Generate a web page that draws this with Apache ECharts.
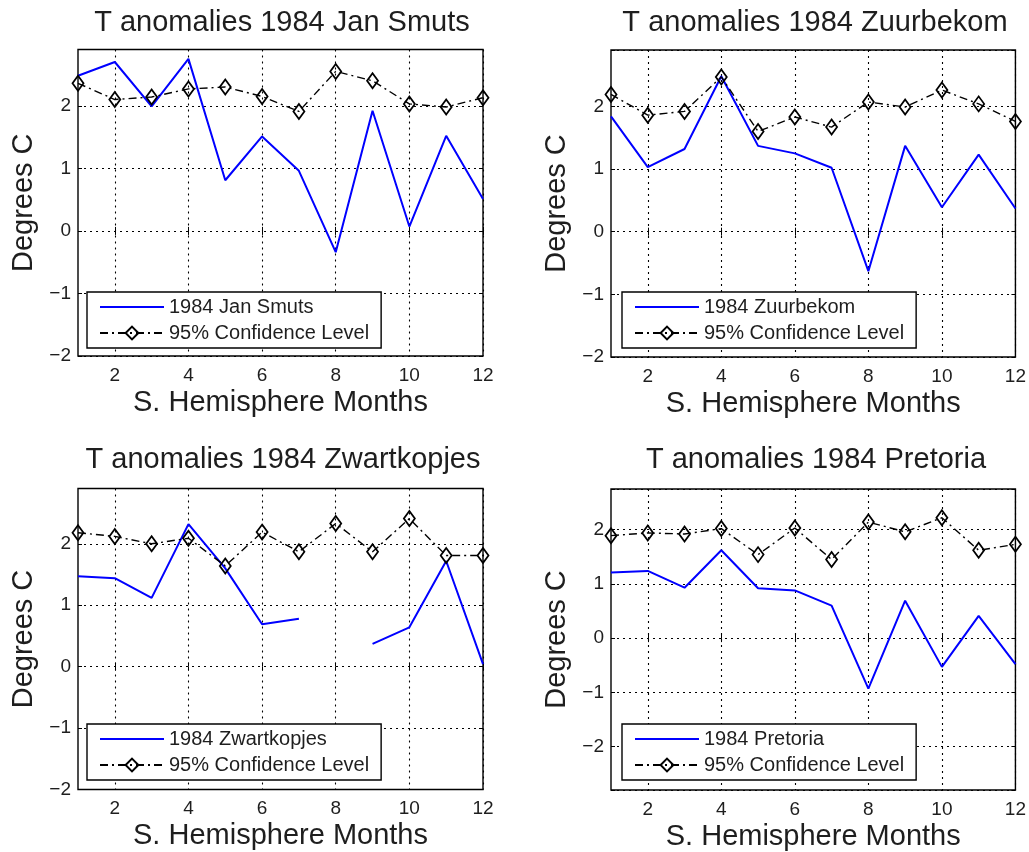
<!DOCTYPE html>
<html>
<head>
<meta charset="utf-8">
<script src="https://cdn.jsdelivr.net/npm/echarts@6/dist/echarts.min.js"></script>
<style>
html,body{margin:0;padding:0;background:#fff;}
#c{width:1029px;height:852px;}
</style>
</head>
<body>
<div id="c"></div>
<script>
// ---- data ----
var months = ['1','2','3','4','5','6','7','8','9','10','11','12'];
var ciName = '95% Confidence Level';

var jsName = '1984 Jan Smuts';
var jsT  = [2.48, 2.70, 1.99, 2.75, 0.81, 1.51, 0.96, -0.34, 1.92, 0.07, 1.52, 0.51];
var jsCI = [2.36, 2.10, 2.14, 2.27, 2.30, 2.15, 1.91, 2.55, 2.40, 2.03, 1.98, 2.13];

var zbName = '1984 Zuurbekom';
var zbT  = [1.84, 1.03, 1.32, 2.48, 1.37, 1.25, 1.02, -0.63, 1.37, 0.39, 1.23, 0.37];
var zbCI = [2.19, 1.86, 1.92, 2.47, 1.60, 1.83, 1.67, 2.07, 1.99, 2.26, 2.04, 1.76];

var zkName = '1984 Zwartkopjes';
var zkT  = [1.47, 1.44, 1.12, 2.32, 1.60, 0.69, 0.78, null, 0.37, 0.64, 1.72, 0.04];
var zkCI = [2.18, 2.12, 2.00, 2.09, 1.64, 2.19, 1.87, 2.33, 1.87, 2.41, 1.81, 1.81];

var ptName = '1984 Pretoria';
var ptT  = [1.21, 1.24, 0.93, 1.62, 0.92, 0.88, 0.60, -0.93, 0.69, -0.53, 0.41, -0.48];
var ptCI = [1.89, 1.94, 1.92, 2.02, 1.54, 2.03, 1.45, 2.14, 1.96, 2.22, 1.62, 1.73];

var titles = ['T anomalies 1984 Jan Smuts','T anomalies 1984 Zuurbekom','T anomalies 1984 Zwartkopjes','T anomalies 1984 Pretoria'];
var yMin = [-2, -2, -2, -2.8];
var yMax = [2.9, 2.9, 2.9, 2.75];
var xName = 'S. Hemisphere Months';
var yName = 'Degrees C';

// ---- layout ----
var panels = [
  {name: jsName, t: jsT, ci: jsCI, grid: {left: 78, top: 49.5, width: 405, height: 306.5}, leg: {left: 87, top: 292}, title: {x: 282, y: 8}},
  {name: zbName, t: zbT, ci: zbCI, grid: {left: 611, top: 50, width: 405, height: 307}, leg: {left: 622, top: 292}, title: {x: 815, y: 8}},
  {name: zkName, t: zkT, ci: zkCI, grid: {left: 78, top: 488.5, width: 405, height: 301}, leg: {left: 87, top: 724}, title: {x: 283, y: 445}},
  {name: ptName, t: ptT, ci: ptCI, grid: {left: 611, top: 489, width: 405, height: 301}, leg: {left: 622, top: 724}, title: {x: 816, y: 445}}
];

var FONT = '"Liberation Sans", Arial, Helvetica, sans-serif';
var TXT = '#1e1e1e';
var evenIdx = function (idx) { return idx % 2 === 1; };
var yFmt = function (v) {
  if (Math.abs(v - Math.round(v)) > 1e-6) return '';
  v = Math.round(v);
  return v < 0 ? '\u2212' + (-v) : String(v);
};
var gridLineStyle = {color: '#000', width: 1.1, type: [2, 4]};

var option = {
  animation: false,
  backgroundColor: '#fff',
  title: [], grid: [], xAxis: [], yAxis: [], legend: [], series: []
};

panels.forEach(function (p, i) {
  option.title.push({
    text: titles[i], left: p.title.x, top: p.title.y, textAlign: 'center', padding: 0,
    textStyle: {fontFamily: FONT, fontSize: 29, fontWeight: 'normal', color: TXT}
  });
  option.grid.push({
    left: p.grid.left, top: p.grid.top, width: p.grid.width, height: p.grid.height,
    show: true, borderColor: '#000', borderWidth: 1.4, backgroundColor: '#fff', containLabel: false
  });
  // bottom x
  option.xAxis.push({
    type: 'category', gridIndex: i, data: months, boundaryGap: false,
    name: xName, nameLocation: 'middle', nameGap: 32,
    nameTextStyle: {fontFamily: FONT, fontSize: 29, color: TXT},
    axisLine: {show: false},
    axisTick: {show: true, inside: true, length: 4, interval: evenIdx, lineStyle: {color: '#000'}},
    axisLabel: {interval: evenIdx, margin: 10, fontFamily: FONT, fontSize: 19, color: TXT},
    splitLine: {show: true, interval: evenIdx, lineStyle: gridLineStyle}
  });
  // top x (ticks only)
  option.xAxis.push({
    type: 'category', gridIndex: i, data: months, boundaryGap: false, position: 'top',
    axisLine: {show: false},
    axisTick: {show: true, inside: true, length: 4, interval: evenIdx, lineStyle: {color: '#000'}},
    axisLabel: {show: false}, splitLine: {show: false}
  });
  // left y
  option.yAxis.push({
    type: 'value', gridIndex: i, min: yMin[i], max: yMax[i], minInterval: 1, maxInterval: 1,
    name: yName, nameLocation: 'middle', nameGap: 40, nameRotate: 90,
    nameTextStyle: {fontFamily: FONT, fontSize: 29, color: TXT},
    axisLine: {show: false},
    axisTick: {show: true, inside: true, length: 4, lineStyle: {color: '#000'}},
    axisLabel: {formatter: yFmt, margin: 7, fontFamily: FONT, fontSize: 19, color: TXT},
    splitLine: {show: true, lineStyle: gridLineStyle}
  });
  // right y (ticks only)
  option.yAxis.push({
    type: 'value', gridIndex: i, min: yMin[i], max: yMax[i], minInterval: 1, maxInterval: 1, position: 'right',
    axisLine: {show: false},
    axisTick: {show: true, inside: true, length: 4, lineStyle: {color: '#000'}},
    axisLabel: {show: false}, splitLine: {show: false}
  });
  option.series.push({
    name: p.name, type: 'line', xAxisIndex: 2 * i, yAxisIndex: 2 * i, data: p.t,
    showSymbol: false, symbol: 'none', connectNulls: false, z: 3,
    lineStyle: {color: '#0000ff', width: 2},
    itemStyle: {color: '#0000ff'}
  });
  option.series.push({
    name: ciName, type: 'line', xAxisIndex: 2 * i, yAxisIndex: 2 * i, data: p.ci,
    symbol: 'diamond', symbolSize: [11, 15], showSymbol: true, z: 4,
    lineStyle: {color: '#000', width: 1.4, type: [8, 4, 2, 4]},
    itemStyle: {color: 'rgba(255,255,255,0)', borderColor: '#000', borderWidth: 1.8}
  });
  option.legend.push({
    data: [
      {name: p.name, itemStyle: {color: 'rgba(0,0,0,0)', borderWidth: 0, opacity: 0}},
      {name: ciName}
    ],
    orient: 'vertical', left: p.leg.left, top: p.leg.top,
    backgroundColor: '#fff', borderColor: '#000', borderWidth: 1.4,
    padding: [5, 12, 5, 12], itemGap: 6, itemWidth: 64, itemHeight: 16,
    selectedMode: false,
    textStyle: {fontFamily: FONT, fontSize: 20, color: TXT, lineHeight: 20}
  });
});

var chart = echarts.init(document.getElementById('c'), null, {renderer: 'canvas'});
chart.setOption(option);
</script>
</body>
</html>
